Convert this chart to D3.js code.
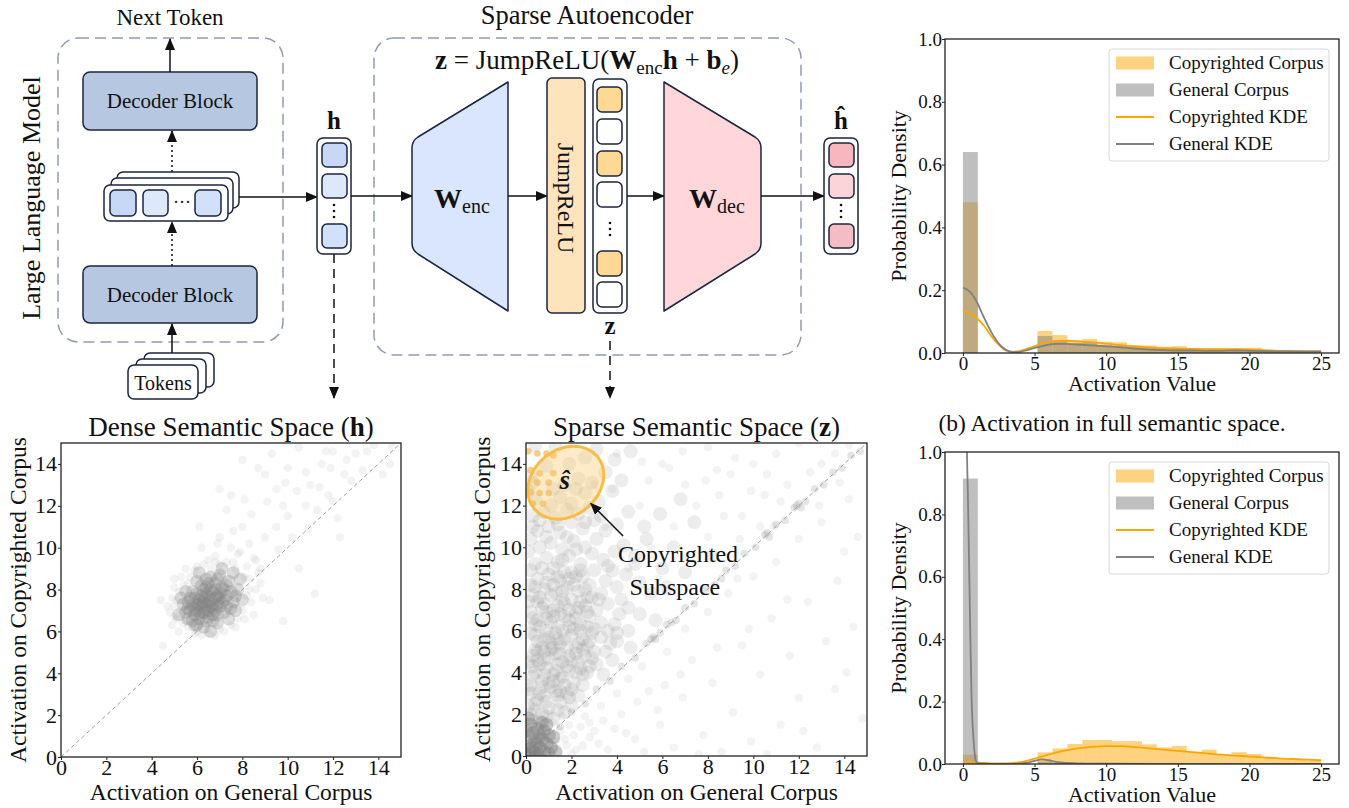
<!DOCTYPE html>
<html><head><meta charset="utf-8">
<script src="https://cdn.jsdelivr.net/npm/d3@7"></script>
<style>
body{margin:0;background:#fff;}
svg{display:block;font-family:"Liberation Serif","Times New Roman",serif;}
svg text{font-family:"Liberation Serif","Times New Roman",serif;}
</style></head><body>
<svg id="fig" width="1349" height="808"></svg>
<script>
// ================= DATA =================
const histBinCount = 24;
const histRange = [0, 25];
const histXTicks = [0, 5, 10, 15, 20, 25];
const histYTicks = [0, 0.2, 0.4, 0.6, 0.8, 1.0];
const legendLabels = ["Copyrighted Corpus", "General Corpus", "Copyrighted KDE", "General KDE"];

// (b) full semantic space histogram (density per bin, 24 bins over 0..25)
const fullCopyrightedHist = [0.48,0,0,0,0,0.07,0.057,0.041,0.045,0.036,0.034,0.025,0.024,0.02,0.022,0.016,0.015,0.015,0.016,0.017,0.01,0.009,0.008,0.007];
const fullGeneralHist     = [0.64,0,0,0,0,0.054,0.041,0.031,0.036,0.025,0.022,0.019,0.017,0.015,0.015,0.013,0.012,0.012,0.012,0.013,0.008,0.007,0.006,0.006];
const fullKdeX = [0,0.5,1,1.5,2,2.5,3,3.5,4,4.5,5,5.5,6,6.5,7,8,9,10,11,12,13,14,15,16,17,18,19,20,21,22,23,24,25];
const fullCopyrightedKde = [0.133,0.125,0.11,0.085,0.053,0.027,0.008,0.004,0.007,0.014,0.021,0.03,0.035,0.038,0.039,0.037,0.034,0.03,0.025,0.021,0.018,0.015,0.014,0.013,0.012,0.012,0.012,0.011,0.009,0.007,0.006,0.005,0.005];
const fullGeneralKde     = [0.208,0.195,0.16,0.11,0.065,0.03,0.01,0.003,0.004,0.009,0.016,0.022,0.027,0.029,0.029,0.027,0.024,0.021,0.018,0.014,0.011,0.009,0.008,0.008,0.007,0.007,0.008,0.007,0.006,0.005,0.005,0.005,0.005];

// copyrighted subspace histogram
const subCopyrightedHist = [0.03,0,0,0,0,0.037,0.05,0.064,0.077,0.077,0.073,0.073,0.063,0.053,0.058,0.039,0.046,0.032,0.038,0.032,0.023,0.018,0.015,0.011];
const subGeneralHist     = [0.915,0,0,0,0,0.008,0.003,0,0,0,0,0,0,0,0,0,0,0,0,0,0,0,0,0];
const subCopyrightedKdeX = [0,0.5,1,2,3,4,4.5,5,5.5,6,7,8,9,10,11,12,13,14,15,16,17,18,19,20,21,22,23,24,25];
const subCopyrightedKde  = [0.005,0.005,0.004,0.002,0.002,0.006,0.011,0.017,0.024,0.031,0.042,0.05,0.055,0.057,0.057,0.054,0.05,0.046,0.042,0.038,0.034,0.03,0.027,0.024,0.021,0.018,0.016,0.014,0.012];
const subGeneralKdeX = [0,0.1,0.2,0.28,0.35,0.47,0.6,0.74,0.88,1.0,1.5,2,3,4,4.5,5,5.5,6,6.5,7,8,10,15,20,25];
const subGeneralKde  = [1.7,1.55,1.25,1.0,0.86,0.54,0.22,0.08,0.014,0.003,0.001,0,0,0.001,0.004,0.01,0.015,0.012,0.007,0.004,0.002,0.001,0,0,0];

// scatter plots: [activation on general corpus, activation on copyrighted corpus]
const scatterTicks = [0, 2, 4, 6, 8, 10, 12, 14];
const denseCore = [[6.5,7.4],[6.2,7.2],[6.8,7.6],[6.0,7.0],[7.0,7.8],[6.4,7.8],[6.7,7.1],[6.1,7.5],[6.9,7.3],[6.3,6.9],
[5.8,7.3],[7.2,7.5],[6.6,8.0],[6.0,7.8],[7.1,8.1],[5.9,6.8],[6.5,6.7],[7.3,7.2],[6.2,8.2],[6.8,8.3],
[5.6,7.1],[5.7,7.6],[7.5,7.9],[7.4,8.4],[6.4,6.5],[6.9,6.8],[5.5,6.9],[6.1,6.6],[7.6,7.4],[6.0,8.4],
[6.6,8.6],[7.0,8.7],[5.4,7.3],[5.8,6.5],[7.8,8.0],[7.2,6.9],[6.3,7.4],[6.7,7.9],[6.5,7.0],[6.2,7.7],
[7.0,7.2],[5.9,7.1],[6.8,7.0],[6.4,8.1],[7.3,7.7],[5.6,6.6],[6.0,6.3],[7.7,7.0],[7.9,8.5],[5.3,7.6],
[6.3,6.2],[6.9,6.4],[7.4,6.6],[5.5,7.9],[6.1,8.8],[7.6,8.8],[8.0,7.5],[5.2,6.8],[6.6,6.0],[7.1,9.0],
[6.4,7.3],[6.6,7.5],[6.3,7.6],[6.7,7.3],[6.5,7.7],[6.1,7.3],[6.9,7.7],[6.2,6.8],[6.8,8.0],[5.9,7.6],
[7.1,7.4],[6.4,7.0],[6.6,7.2],[6.0,7.3],[7.0,7.6],[6.3,8.0],[6.7,6.8],[5.7,7.0],[7.2,8.0],[6.5,8.3],
[5.8,7.9],[7.5,7.1],[6.9,8.5],[6.1,6.9],[7.3,8.2],[5.6,7.4],[6.7,6.5],[7.7,7.7],[5.9,6.3],[6.4,8.5]];
const denseHalo = [[5.0,7.2],[5.2,7.9],[4.8,6.9],[5.4,6.4],[5.1,6.6],[5.6,8.3],[5.9,8.9],[6.3,9.2],[6.8,9.6],[7.3,9.3],
[7.7,9.0],[8.1,8.6],[8.3,8.0],[8.4,7.4],[8.0,7.0],[7.8,6.6],[7.5,6.3],[7.0,6.1],[6.5,5.9],[6.0,6.0],
[5.6,6.2],[5.3,8.6],[6.6,9.0],[7.2,8.5],[8.6,9.4],[7.9,9.8],[6.9,10.2],[7.5,10.0],[8.8,8.3],[5.0,8.1],
[4.9,7.6],[6.2,5.8],[8.5,6.8],[8.9,7.6],[4.4,7.5],[4.5,5.3],[4.9,6.3],[5.0,8.5],[5.2,6.0],[5.5,9.0],
[6.2,10.0],[7.0,10.5],[7.5,12.5],[8.0,11.0],[8.5,9.5],[8.6,8.0],[9.0,10.5],[9.5,12.8],[9.8,12.0],[10.0,13.8],
[10.5,14.8],[11.0,13.0],[11.3,11.8],[11.5,14.0],[12.0,14.6],[12.0,12.2],[12.5,13.5],[13.0,14.5],[13.5,14.6],[14.5,14.0],
[14.2,13.5],[10.5,9.0],[11.2,7.8],[9.8,6.5],[9.2,7.5],[12.3,10.5],[10.2,10.5],[9.0,13.5],[8.7,13.8],[8.0,14.2],
[11.8,12.5],[10.8,12.0],[9.5,11.0],[8.3,10.2],[7.8,9.7],[7.3,11.8],[6.8,9.3],[7.6,10.8],[8.8,9.0],[10.0,11.5],
[10.8,13.6],[11.7,14.6],[12.8,13.2],[13.3,13.7],[9.3,14.5],[8.1,12.3],[7.0,12.8],[9.6,9.9],[10.4,12.7],[11.9,13.8],
[12.6,14.2],[13.8,14.9],[14.6,14.8],[9.1,12.2],[10.9,10.9],[11.4,12.9],[6.1,11.0],[8.4,11.6],[9.9,13.1],[12.2,11.4],
[5.1,7.5],[5.3,7.0],[5.4,8.2],[5.7,8.6],[6.0,9.1],[6.5,9.4],[7.0,9.2],[7.6,9.3],[8.2,9.1],[8.3,8.5],
[8.2,7.7],[8.1,6.6],[7.7,6.2],[7.2,6.0],[6.8,5.8],[5.9,5.9],[5.5,6.5],[4.7,7.2],[5.0,6.7],[8.7,8.8]];
const sparseOrigin = [[0.1,0.1],[0.3,0.2],[0.5,0.1],[0.2,0.5],[0.6,0.4],[0.4,0.7],[0.8,0.2],[0.1,0.9],[0.7,0.8],[0.3,1.1],
[0.9,0.6],[1.0,0.1],[0.5,1.3],[0.2,1.5],[1.1,0.4],[0.6,1.0],[0.0,0.3],[0.4,0.0],[0.8,1.2],[1.2,0.9],
[0.1,1.8],[0.3,0.4],[0.6,0.0],[0.9,1.5],[0.2,0.0],[1.3,0.2],[0.0,1.2],[0.5,0.6],[1.0,1.0],[0.7,1.6]];
const sparseCloud = [[0.3,1.7],[0.7,2.0],[1.2,1.8],[0.1,2.4],[0.5,2.7],[1.0,2.3],[1.5,2.6],[0.8,2.9],[1.9,2.8],[0.2,3.0],
[1.3,3.1],[0.6,1.6],[2.3,2.9],[1.7,2.1],[0.4,2.2],[0.2,3.4],[0.7,3.6],[1.1,3.3],[1.6,3.8],[2.1,3.5],
[0.4,4.0],[0.9,4.2],[1.4,4.4],[1.9,4.1],[2.5,3.9],[2.8,4.3],[0.1,4.5],[1.2,3.9],[3.1,4.4],[0.6,4.4],
[2.3,4.5],[1.7,3.4],[3.4,3.9],[0.3,4.8],[0.8,5.0],[1.3,4.9],[1.8,5.2],[2.2,4.9],[2.7,5.3],[0.5,5.5],
[1.0,5.7],[1.5,5.4],[2.0,5.8],[2.5,5.6],[3.0,5.0],[3.3,5.7],[0.2,5.9],[0.9,6.0],[1.6,6.0],[2.9,5.9],
[3.7,5.4],[1.2,5.2],[2.3,5.4],[4.0,5.9],[0.4,6.3],[0.9,6.6],[1.4,6.2],[1.9,6.5],[2.4,6.3],[2.8,6.7],
[3.3,6.4],[0.2,6.9],[0.7,7.1],[1.2,7.0],[1.7,7.3],[2.2,6.9],[2.6,7.2],[3.1,7.0],[3.6,7.3],[4.1,6.8],
[0.5,7.4],[1.5,6.8],[2.0,7.5],[3.9,6.3],[4.5,7.1],[0.3,7.7],[0.8,8.0],[1.3,7.8],[1.8,8.1],[2.3,7.9],
[2.8,8.2],[3.3,7.8],[0.5,8.5],[1.0,8.7],[1.5,8.4],[2.0,8.8],[2.5,8.6],[3.0,8.9],[3.5,8.4],[4.0,8.1],
[4.4,8.7],[0.2,8.9],[1.2,9.0],[2.7,7.6],[3.8,8.9],[5.0,8.3],[0.4,9.2],[0.9,9.5],[1.4,9.3],[1.9,9.6],
[2.4,9.2],[2.9,9.7],[3.4,9.4],[3.9,9.8],[0.6,10.0],[1.1,10.2],[1.6,9.9],[2.1,10.3],[2.6,10.0],[3.1,10.4],
[4.3,10.1],[0.2,10.4],[1.8,10.5],[3.6,9.1],[4.8,9.6],[0.5,10.8],[1.0,11.0],[1.5,10.7],[2.0,11.2],[2.5,10.9],
[3.0,11.3],[3.5,10.8],[4.0,11.1],[0.3,11.5],[0.8,11.7],[1.3,11.4],[1.8,11.8],[2.3,11.6],[2.8,11.9],[3.3,11.5],
[4.5,11.7],[5.2,11.0],[0.4,12.3],[1.5,12.4],[2.0,12.1],[2.6,12.6],[3.2,12.2],[3.8,12.7],[1.7,13.0],[2.3,13.3],
[2.9,13.1],[3.5,13.6],[4.2,13.2],[1.9,14.0],[2.6,14.3],[3.1,14.7],[3.9,14.2],[1.3,14.8],[4.6,14.6],[2.2,12.8],
[0.9,13.9],[0.4,14.9],[0.6,3.0],[1.0,3.5],[1.5,3.1],[2.0,3.2],[0.3,3.8],[0.8,3.9],[1.3,4.1],[1.8,4.3],
[2.4,4.2],[0.5,4.6],[1.0,4.7],[1.5,4.9],[2.0,4.6],[2.6,4.8],[0.7,5.2],[1.1,5.4],[1.7,5.6],[2.2,5.2],
[2.8,5.5],[0.4,5.8],[1.3,5.9],[2.4,6.0],[0.6,6.2],[1.1,6.4],[1.7,6.7],[2.2,6.6],[2.7,6.9],[0.9,6.9],
[1.4,7.2],[1.9,7.0],[2.4,7.4],[0.6,7.6],[1.1,7.7],[1.6,7.9],[2.1,8.2],[2.6,8.0],[0.9,8.3],[1.4,8.6],
[1.9,8.5],[2.4,8.9],[3.0,6.1],[3.2,7.5],[0.4,5.1],[2.9,4.7],[1.6,4.5],[0.2,2.0],[0.9,1.9],[1.4,2.2],
[0.1,3.2],[0.3,6.6],[0.1,7.4],[0.2,8.2],[0.1,9.8],[0.3,11.0],[0.1,12.7],[0.2,13.4],[1.1,12.0],[1.2,12.8],
[3.5,5.0],[4.0,5.5],[4.5,6.0],[3.8,4.6],[4.2,7.5],[5.0,6.8],[5.5,7.8],[4.8,9.2],[5.3,10.4],[6.0,9.0],
[6.5,10.0],[6.2,8.1],[5.7,6.5],[4.6,5.2],[3.6,6.0],[7.0,8.8],[7.4,11.2],[6.8,12.3],[5.9,11.6],[8.2,9.6],
[0.4,2.5],[0.9,2.6],[1.4,2.9],[2.0,2.4],[0.7,3.3],[1.2,3.6],[1.8,3.0],[2.5,3.4],[0.3,4.3],[0.8,4.6],
[1.5,3.7],[2.2,4.0],[2.7,4.0],[0.5,5.0],[1.1,5.1],[1.9,4.8],[2.5,5.1],[0.8,5.6],[1.4,5.6],[2.1,6.1],
[2.7,6.2],[0.5,6.5],[1.2,6.7],[1.9,6.2],[0.8,7.3],[1.6,7.5],[2.3,7.1],[2.9,7.6],[0.4,8.1],[1.2,8.2],
[1.7,8.8],[2.2,8.6],[0.7,9.0],[1.6,9.4],[2.2,9.9],[0.9,10.5],[1.4,11.1],[0.6,11.3],[2.6,11.2],[0.3,13.1]];
const sparseUpper = [[8.7,11.5],[9.4,10.4],[9.9,12.7],[10.6,13.5],[11.2,12.2],[12.5,13.6],[13.6,14.5],[14.2,14.9],[7.9,13.2],[6.3,13.8],
[5.1,14.1],[3.0,13.0],[4.0,14.5],[5.0,12.0],[6.0,14.0],[7.0,13.0],[8.0,14.8],[9.0,13.5],[10.0,14.0],[11.0,14.5],
[12.0,15.0],[5.5,10.0],[6.5,11.0],[7.5,12.0],[8.5,12.5],[4.5,9.0],[3.5,11.0],[9.5,11.5],[10.5,12.5],[11.5,13.0],
[13.0,14.0],[5.8,8.5],[7.0,9.5],[8.0,10.5],[3.8,12.8],[6.9,14.6],[9.2,14.3],[10.3,11.0],[5.4,13.2],[8.4,13.7]];
const sparseDiagonal = [[1.5,1.4],[2.0,2.1],[2.6,2.5],[3.1,3.2],[3.7,3.6],[4.2,4.3],[4.8,4.7],[5.3,5.4],[5.7,5.6],[5.9,5.9],
[6.2,6.3],[6.6,6.5],[7.0,7.1],[7.4,7.3],[7.9,8.0],[8.3,8.2],[8.8,8.9],[9.2,9.1],[9.6,9.7],[10.1,10.0],
[10.5,10.6],[10.7,10.5],[11.0,11.1],[11.4,11.3],[11.8,11.9],[12.0,12.1],[12.3,12.2],[12.7,12.8],[13.1,13.0],[13.5,13.6],
[13.9,13.8],[14.3,14.4],[14.7,14.6],[5.6,5.7],[12.1,11.9],[5.5,5.6],[10.6,10.7],[11.9,12.0],[6.4,6.4],[8.6,8.5]];
const sparseLower = [[2.5,0.5],[3.0,1.2],[3.6,0.3],[4.2,2.0],[4.8,0.8],[5.4,3.1],[5.9,1.5],[6.5,0.4],[6.9,2.8],[7.3,4.6],
[7.8,1.0],[8.2,3.5],[8.6,0.2],[9.1,2.1],[9.5,5.3],[9.9,0.7],[10.3,3.9],[10.8,6.6],[11.2,1.5],[11.6,4.8],
[12.0,2.8],[12.4,7.4],[12.8,0.4],[13.2,5.5],[13.6,3.2],[14.0,9.8],[14.4,6.2],[14.8,1.8],[3.3,2.4],[4.5,3.7],
[5.1,4.3],[6.2,5.0],[7.0,6.1],[8.0,6.9],[8.9,7.8],[10.0,8.6],[11.0,9.3],[12.0,10.4],[13.0,11.2],[14.2,12.3],
[14.6,10.5],[13.7,8.4],[11.5,7.5],[9.3,8.5],[7.6,0.1],[10.6,0.1],[12.2,1.2],[14.1,4.0],[5.8,2.2],[6.8,3.9],
[8.4,5.2],[9.8,6.1],[10.9,11.0],[12.9,12.0],[13.8,13.1],[3.9,1.3],[2.8,1.6],[2.1,1.0],[1.8,0.5],[1.5,1.2],
[1.4,0.2],[1.7,0.8],[2.2,0.3],[2.6,1.9],[3.2,0.6],[1.2,1.6],[1.6,1.9],[2.4,1.4],[1.9,1.5],[2.8,0.9],
[3.4,1.7],[1.3,0.7],[2.0,0.1],[4.4,1.1],[5.2,0.2],[4.0,3.0],[4.9,2.6],[6.1,3.4]];
const subspacePoints = [[0.1,14.6],[0.5,14.5],[0.9,14.5],[1.2,14.4],[0.2,13.7],[0.6,13.55],[1.2,13.55],[0.5,13.1],[1.0,13.1],[0.2,12.65],
[0.6,12.6],[1.0,12.6],[0.3,12.1],[0.75,12.1]];
const subspaceCenter = [1.75, 13.1];

// ================= DRAW =================
const svg = d3.select("#fig");
const ink = "#1b2442";
const defs = svg.append("defs");
defs.append("marker").attr("id","ah").attr("viewBox","0 0 12 10").attr("refX",11).attr("refY",5)
  .attr("markerWidth",12).attr("markerHeight",10).attr("markerUnits","userSpaceOnUse").attr("orient","auto")
  .append("path").attr("d","M0,0L12,5L0,10Z").attr("fill","#111");

function T(g,x,y,s,size,o={}){
  return g.append("text").attr("x",x).attr("y",y).attr("font-size",size)
    .attr("text-anchor",o.anchor||"middle").attr("fill",o.fill||"#111")
    .attr("font-weight",o.bold?"bold":null).attr("font-style",o.italic?"italic":null).text(s);
}
function arrow(g,x1,y1,x2,y2,dash){
  g.append("line").attr("x1",x1).attr("y1",y1).attr("x2",x2).attr("y2",y2)
   .attr("stroke","#111").attr("stroke-width",1.5).attr("stroke-dasharray",dash||null).attr("marker-end","url(#ah)");
}
function rr(g,x,y,w,h,r,fill,sw){
  return g.append("rect").attr("x",x).attr("y",y).attr("width",w).attr("height",h).attr("rx",r)
    .attr("fill",fill).attr("stroke",ink).attr("stroke-width",sw||1.5);
}
function vdots(g,cx,cy){
  [-6,0,6].forEach(d=>g.append("circle").attr("cx",cx).attr("cy",cy+d).attr("r",1.3).attr("fill","#111"));
}

// ---------- diagram ----------
const D = svg.append("g");
D.append("rect").attr("x",58).attr("y",38).attr("width",225).attr("height",304).attr("rx",20)
  .attr("fill","none").attr("stroke","#8e9cb2").attr("stroke-width",1.5).attr("stroke-dasharray","11,6");
D.append("rect").attr("x",374).attr("y",38).attr("width",427).attr("height",317).attr("rx",20)
  .attr("fill","none").attr("stroke","#8e9cb2").attr("stroke-width",1.5).attr("stroke-dasharray","11,6");

T(D,170,25,"Next Token",23);
T(D,587,24,"Sparse Autoencoder",26.5);
T(D,0,0,"Large Language Model",26).attr("transform","translate(40,198) rotate(-90)");

// decoder blocks
rr(D,83,72,174,58,7,"#b6c8e1");
T(D,170,108,"Decoder Block",21);
rr(D,83,266,174,57,7,"#b6c8e1");
T(D,170,302,"Decoder Block",21);
arrow(D,170,72,170,39);
arrow(D,172,172,172,131,"2,3");
arrow(D,172,266,172,222,"2,3");
arrow(D,172,353,172,324);

// hidden state stack
rr(D,117,172,122,36,6,"#fff");
rr(D,111,178,122,36,6,"#fff");
rr(D,104,185,124,36,6,"#fff");
rr(D,110,190,26,26,5,"#c6d8f6");
rr(D,143,190,25,26,5,"#dde8fb");
T(D,182,208,"···",18);
rr(D,195,190,26,26,5,"#d2e1fa");

// tokens
rr(D,144,353,70,34,6,"#fff");
rr(D,136,359,70,34,6,"#fff");
rr(D,128,365,70,34,6,"#fff");
T(D,163,390,"Tokens",20);

// h vector
arrow(D,239,197,317,197);
rr(D,317,138,34,116,6,"#fff");
rr(D,322,143,25,24,5,"#c6d8f6");
rr(D,322,174,25,24,5,"#dde8fb");
vdots(D,334,211);
rr(D,322,224,25,24,5,"#d2e1fa");
T(D,334,129,"h",25,{bold:true});
arrow(D,334,254,334,398,"9,6");

// encoder
arrow(D,351,196,412,196);
D.append("path").attr("d","M412,148 Q412,141 418,137 L508,82 L508,311 L418,254 Q412,250 412,243 Z")
  .attr("fill","#dae6fd").attr("stroke",ink).attr("stroke-width",1.5).attr("stroke-linejoin","round");
{
  const t = D.append("text").attr("x",462).attr("y",208).attr("text-anchor","middle").attr("fill","#111");
  t.append("tspan").attr("font-size",28).attr("font-weight","bold").text("W");
  t.append("tspan").attr("font-size",20).attr("dy",5).text("enc");
}
arrow(D,508,196,547,196);

// JumpReLU
rr(D,547,78,38,235,5,"#fde4bc");
T(D,0,0,"JumpReLU",24).attr("transform","translate(558,198) rotate(90)");

// z vector
rr(D,593,79,34,234,6,"#fff");
[[87,"#fcd994"],[119,"#fff"],[151,"#fcd994"],[182,"#fff"],[251,"#fcd994"],[282,"#fff"]]
  .forEach(([y,c])=>rr(D,597,y,25,25,5,c));
vdots(D,610,229);
T(D,610,334,"z",25,{bold:true});
arrow(D,610,341,610,398,"9,6");

// decoder
arrow(D,627,196,664,196);
D.append("path").attr("d","M664,82 L755,137 Q761,141 761,148 L761,243 Q761,250 755,254 L664,311 Z")
  .attr("fill","#ffd7da").attr("stroke",ink).attr("stroke-width",1.5).attr("stroke-linejoin","round");
{
  const t = D.append("text").attr("x",717).attr("y",208).attr("text-anchor","middle").attr("fill","#111");
  t.append("tspan").attr("font-size",28).attr("font-weight","bold").text("W");
  t.append("tspan").attr("font-size",20).attr("dy",5).text("dec");
}
arrow(D,761,196,824,196);

// h-hat vector
rr(D,824,138,34,116,6,"#fff");
rr(D,829,143,25,24,5,"#f7b7be");
rr(D,829,174,25,24,5,"#fad4d8");
vdots(D,841,211);
rr(D,829,224,25,24,5,"#f6bcc3");
T(D,841,129,"ĥ",25,{bold:true});

// formula
{
  const f = D.append("text").attr("x",587).attr("y",69).attr("text-anchor","middle").attr("font-size",27).attr("fill","#111");
  f.append("tspan").attr("font-weight","bold").text("z");
  f.append("tspan").text(" = JumpReLU(");
  f.append("tspan").attr("font-weight","bold").text("W");
  f.append("tspan").attr("font-size",19).attr("dy",5).text("enc");
  f.append("tspan").attr("font-weight","bold").attr("dy",-5).text("h");
  f.append("tspan").text(" + ");
  f.append("tspan").attr("font-weight","bold").text("b");
  f.append("tspan").attr("font-size",19).attr("font-style","italic").attr("dy",5).text("e");
  f.append("tspan").attr("dy",-5).text(")");
}

// ---------- scatter panels ----------
function scatterPanel(cfg){
  const g = svg.append("g");
  const sx = d3.scaleLinear().domain([0,15]).range(cfg.xr);
  const sy = d3.scaleLinear().domain([0,15]).range(cfg.yr);
  const id = "clip"+cfg.id;
  defs.append("clipPath").attr("id",id).append("rect")
    .attr("x",cfg.xr[0]).attr("y",cfg.yr[1]).attr("width",cfg.xr[1]-cfg.xr[0]).attr("height",cfg.yr[0]-cfg.yr[1]);
  const p = g.append("g").attr("clip-path",`url(#${id})`);
  cfg.layers.forEach(L=>{
    p.append("g").selectAll("circle").data(L.data).join("circle")
      .attr("cx",d=>sx(d[0])).attr("cy",d=>sy(d[1])).attr("r",L.r)
      .attr("fill",L.color||"#7f7f7f").attr("fill-opacity",L.op);
  });
  p.append("line").attr("x1",sx(0)).attr("y1",sy(0)).attr("x2",sx(15)).attr("y2",sy(15))
    .attr("stroke","#a0a0a0").attr("stroke-width",1).attr("stroke-dasharray","4,3");
  if(cfg.after) cfg.after(p,sx,sy,g);
  const ax = g.append("g").attr("transform",`translate(0,${cfg.yr[0]})`)
    .call(d3.axisBottom(sx).tickValues(scatterTicks).tickSize(3).tickPadding(-1).tickFormat(d3.format("d")));
  const ay = g.append("g").attr("transform",`translate(${cfg.xr[0]},0)`)
    .call(d3.axisLeft(sy).tickValues(scatterTicks).tickSize(3).tickPadding(1).tickFormat(d3.format("d")));
  [ax,ay].forEach(a=>{
    a.select(".domain").remove();
    a.selectAll("text").attr("font-size",22).attr("fill","#111");
    a.selectAll("line").attr("stroke","#222");
  });
  g.append("rect").attr("x",cfg.xr[0]).attr("y",cfg.yr[1]).attr("width",cfg.xr[1]-cfg.xr[0])
    .attr("height",cfg.yr[0]-cfg.yr[1]).attr("fill","none").attr("stroke","#222").attr("stroke-width",1.3);
  const cx = (cfg.xr[0]+cfg.xr[1])/2;
  const tt = g.append("text").attr("x",cx).attr("y",436).attr("text-anchor","middle").attr("font-size",27).attr("fill","#111");
  tt.append("tspan").text(cfg.title+" (");
  tt.append("tspan").attr("font-weight","bold").text(cfg.titleSym);
  tt.append("tspan").text(")");
  T(g,cx,800,"Activation on General Corpus",23.5);
  T(g,0,0,"Activation on Copyrighted Corpus",23.5)
    .attr("transform",`translate(${cfg.ylabX},${(cfg.yr[0]+cfg.yr[1])/2}) rotate(-90)`);
}

scatterPanel({id:"a", xr:[61,401], yr:[757,443], title:"Dense Semantic Space", titleSym:"h", ylabX:26,
  layers:[{data:denseHalo,r:4.2,op:0.09},{data:denseCore,r:6.5,op:0.27}]});

scatterPanel({id:"b", xr:[526,867], yr:[756,443], title:"Sparse Semantic Space", titleSym:"z", ylabX:490,
  layers:[{data:sparseLower,r:4.2,op:0.09},{data:sparseUpper,r:4.2,op:0.09},{data:sparseCloud,r:7,op:0.14},
          {data:sparseDiagonal,r:3.8,op:0.2},{data:sparseOrigin,r:7,op:0.4}],
  after:(p,sx,sy,g)=>{
    const cx=sx(subspaceCenter[0]), cy=sy(subspaceCenter[1]);
    p.append("g").selectAll("circle").data(subspacePoints).join("circle")
      .attr("cx",d=>sx(d[0])).attr("cy",d=>sy(d[1])).attr("r",3.3).attr("fill","#f3a93a").attr("fill-opacity",0.6);
    g.append("ellipse").attr("cx",cx).attr("cy",cy).attr("rx",41).attr("ry",33)
      .attr("transform",`rotate(-40,${cx},${cy})`)
      .attr("fill","#fbc868").attr("fill-opacity",0.38).attr("stroke","#f7bd45").attr("stroke-width",3);
    T(g,cx-1,cy+6,"ŝ",27,{bold:true,italic:true});
    arrow(g,sx(4.27),sy(10.54),sx(2.85),sy(12.1));
    T(g,sx(6.69),sy(9.3),"Copyrighted",24);
    T(g,sx(6.55),sy(7.71),"Subspace",24);
  }});

// ---------- histogram panels ----------
function histPanel(cfg){
  const g = svg.append("g");
  const xr=[945,1339];
  const x = d3.scaleLinear().domain([-1.25,26.25]).range(xr);
  const y = d3.scaleLinear().domain([0,1]).range([cfg.bottom,cfg.top]);
  const bw = (histRange[1]-histRange[0])/histBinCount;
  const id = "hclip"+cfg.id;
  defs.append("clipPath").attr("id",id).append("rect").attr("x",xr[0]).attr("y",cfg.top).attr("width",xr[1]-xr[0]).attr("height",cfg.bottom-cfg.top);
  const p = g.append("g").attr("clip-path",`url(#${id})`);
  [[cfg.copyHist,"#FFA500"],[cfg.genHist,"#808080"]].forEach(([arr,c])=>{
    p.append("g").selectAll("rect").data(arr).join("rect")
      .attr("x",(d,i)=>x(histRange[0]+i*bw)).attr("width",(d,i)=>x(histRange[0]+(i+1)*bw)-x(histRange[0]+i*bw))
      .attr("y",d=>y(d)).attr("height",d=>y(0)-y(d)).attr("fill",c).attr("fill-opacity",0.5);
  });
  const line = d3.line().x(d=>x(d[0])).y(d=>y(d[1])).curve(d3.curveMonotoneX);
  p.append("path").attr("d",line(cfg.copyKdeX.map((v,i)=>[v,cfg.copyKde[i]]))).attr("fill","none").attr("stroke","#FFA500").attr("stroke-width",1.8);
  p.append("path").attr("d",line(cfg.genKdeX.map((v,i)=>[v,cfg.genKde[i]]))).attr("fill","none").attr("stroke","#808080").attr("stroke-width",1.8);
  const ax = g.append("g").attr("transform",`translate(0,${cfg.bottom})`)
    .call(d3.axisBottom(x).tickValues(histXTicks).tickSize(3).tickPadding(0).tickFormat(d3.format("d")));
  const ay = g.append("g").attr("transform",`translate(${xr[0]},0)`)
    .call(d3.axisLeft(y).tickValues(histYTicks).tickSize(3).tickPadding(0).tickFormat(d3.format(".1f")));
  [ax,ay].forEach(a=>{
    a.select(".domain").remove();
    a.selectAll("text").attr("font-size",19).attr("fill","#111");
    a.selectAll("line").attr("stroke","#222");
  });
  g.append("rect").attr("x",xr[0]).attr("y",cfg.top).attr("width",xr[1]-xr[0]).attr("height",cfg.bottom-cfg.top)
    .attr("fill","none").attr("stroke","#222").attr("stroke-width",1.3);
  T(g,1142,cfg.bottom+38,"Activation Value",22);
  T(g,0,0,"Probability Density",22).attr("transform",`translate(906,${(cfg.top+cfg.bottom)/2}) rotate(-90)`);
  // legend
  const lg = g.append("g");
  const ly = cfg.top+10;
  lg.append("rect").attr("x",1109).attr("y",ly).attr("width",220).attr("height",112).attr("rx",3)
    .attr("fill","#fff").attr("fill-opacity",0.8).attr("stroke","#d8d8d8");
  const kinds = [["patch","#FFA500"],["patch","#808080"],["line","#FFA500"],["line","#808080"]];
  legendLabels.forEach((lab,i)=>{
    const cy = ly+14+i*27;
    if(kinds[i][0]==="patch") lg.append("rect").attr("x",1116).attr("y",cy-6.5).attr("width",38).attr("height",13).attr("fill",kinds[i][1]).attr("fill-opacity",0.5);
    else lg.append("line").attr("x1",1116).attr("x2",1154).attr("y1",cy).attr("y2",cy).attr("stroke",kinds[i][1]).attr("stroke-width",1.8);
    T(lg,1169,cy+6,lab,19,{anchor:"start"});
  });
}

histPanel({id:"t", top:39, bottom:353, copyHist:fullCopyrightedHist, genHist:fullGeneralHist,
  copyKdeX:fullKdeX, copyKde:fullCopyrightedKde, genKdeX:fullKdeX, genKde:fullGeneralKde});
T(svg,1112,431,"(b) Activation in full semantic space.",23.5);
histPanel({id:"b", top:452, bottom:764, copyHist:subCopyrightedHist, genHist:subGeneralHist,
  copyKdeX:subCopyrightedKdeX, copyKde:subCopyrightedKde, genKdeX:subGeneralKdeX, genKde:subGeneralKde});
</script></body></html>
